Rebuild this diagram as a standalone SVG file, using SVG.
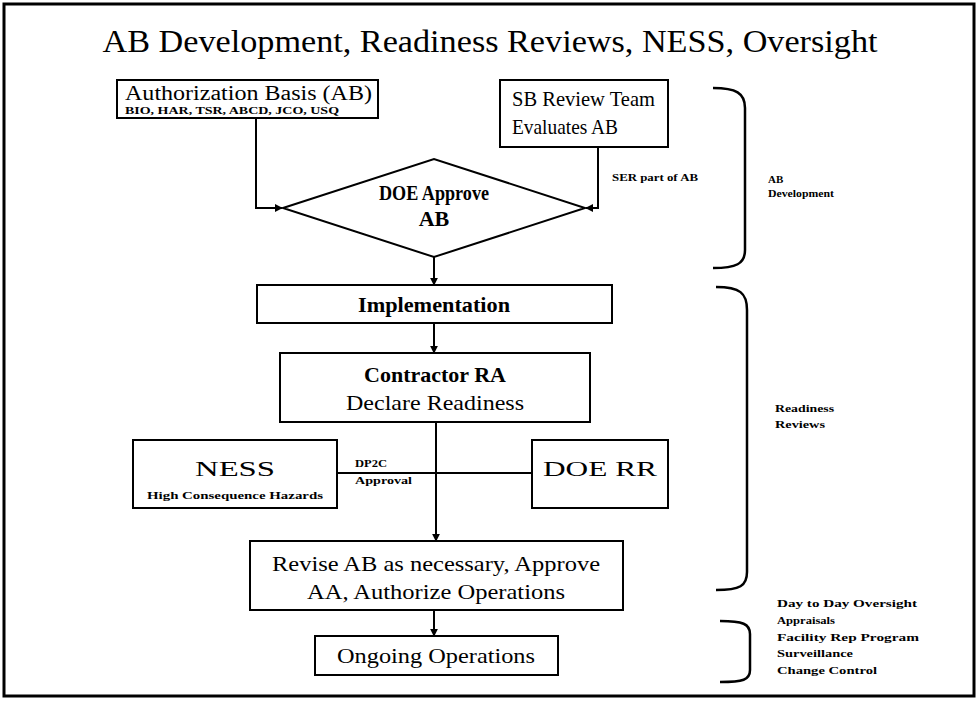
<svg xmlns="http://www.w3.org/2000/svg" width="977" height="707" viewBox="0 0 977 707">
<style>
.box{fill:#fff;stroke:#000;stroke-width:2}
.ln{fill:none;stroke:#000;stroke-width:2}
.br{fill:none;stroke:#000;stroke-width:2.5}
text{font-family:"Liberation Serif","Times New Roman",serif;fill:#000}
.m{font-size:22px;text-anchor:middle}
.b{font-weight:bold}
.s{font-size:11px;font-weight:bold}
</style>
<defs>
<marker id="ah" viewBox="0 0 10 10" refX="9" refY="5" markerWidth="8" markerHeight="8" markerUnits="userSpaceOnUse" orient="auto">
<path d="M0,0 L10,5 L0,10 z" fill="#000"/>
</marker>
</defs>
<rect x="4" y="4" width="970" height="692" fill="#fff" stroke="#000" stroke-width="3"/>
<text x="490" y="52" font-size="31" text-anchor="middle" textLength="775" lengthAdjust="spacingAndGlyphs">AB Development, Readiness Reviews, NESS, Oversight</text>

<g id="connectors">
<path class="ln" d="M256,118 V208 H282" marker-end="url(#ah)"/>
<path class="ln" d="M598,147 V208 H586" marker-end="url(#ah)"/>
<path class="ln" d="M434,257 V285" marker-end="url(#ah)"/>
<path class="ln" d="M434,323 V353" marker-end="url(#ah)"/>
<path class="ln" d="M436,422 V541" marker-end="url(#ah)"/>
<path class="ln" d="M337,473 H532"/>
<path class="ln" d="M434,610 V636" marker-end="url(#ah)"/>
<text class="s" x="612" y="181" textLength="86" lengthAdjust="spacingAndGlyphs">SER part of AB</text>
<text class="s" x="355" y="467" font-size="10" textLength="32" lengthAdjust="spacingAndGlyphs">DP2C</text>
<text class="s" x="355" y="484" font-size="10" textLength="57" lengthAdjust="spacingAndGlyphs">Approval</text>
</g>

<g id="auth-basis">
<rect class="box" x="117" y="80" width="261" height="38"/>
<text x="125" y="100" font-size="20" textLength="247" lengthAdjust="spacingAndGlyphs">Authorization Basis (AB)</text>
<text class="s" x="125" y="114" font-size="9" textLength="214" lengthAdjust="spacingAndGlyphs">BIO, HAR, TSR, ABCD, JCO, USQ</text>
</g>

<g id="sb-review">
<rect class="box" x="500" y="80" width="168" height="67"/>
<text x="512" y="106" font-size="22" textLength="143" lengthAdjust="spacingAndGlyphs">SB Review Team</text>
<text x="512" y="134" font-size="22" textLength="106" lengthAdjust="spacingAndGlyphs">Evaluates AB</text>
</g>

<g id="doe-approve">
<polygon class="box" points="283,208 434,159 585,208 434,257"/>
<text class="m b" x="434" y="200" font-size="18" textLength="110" lengthAdjust="spacingAndGlyphs">DOE Approve</text>
<text class="m b" x="434" y="226" font-size="18">AB</text>
</g>

<g id="implementation">
<rect class="box" x="257" y="285" width="355" height="38"/>
<text class="m b" x="434" y="312" font-size="20" textLength="152" lengthAdjust="spacingAndGlyphs">Implementation</text>
</g>

<g id="contractor-ra">
<rect class="box" x="280" y="353" width="310" height="69"/>
<text class="m b" x="435" y="382" font-size="21" textLength="142" lengthAdjust="spacingAndGlyphs">Contractor RA</text>
<text class="m" x="435" y="410" font-size="22" textLength="178" lengthAdjust="spacingAndGlyphs">Declare Readiness</text>
</g>

<g id="ness">
<rect class="box" x="133" y="440" width="204" height="68"/>
<text class="m" x="235" y="476" font-size="32" textLength="80" lengthAdjust="spacingAndGlyphs">NESS</text>
<text class="s" x="235" y="499" font-size="9.5" text-anchor="middle" textLength="176" lengthAdjust="spacingAndGlyphs">High Consequence Hazards</text>
</g>

<g id="doe-rr">
<rect class="box" x="532" y="440" width="136" height="68"/>
<text class="m" x="600" y="476" font-size="32" textLength="114" lengthAdjust="spacingAndGlyphs">DOE RR</text>
</g>

<g id="revise-ab">
<rect class="box" x="250" y="541" width="373" height="69"/>
<text class="m" x="436" y="571" font-size="22" textLength="328" lengthAdjust="spacingAndGlyphs">Revise AB as necessary, Approve</text>
<text class="m" x="436" y="599" font-size="22" textLength="258" lengthAdjust="spacingAndGlyphs">AA, Authorize Operations</text>
</g>

<g id="ongoing">
<rect class="box" x="315" y="636" width="243" height="39"/>
<text class="m" x="436" y="663" font-size="23" textLength="198" lengthAdjust="spacingAndGlyphs">Ongoing Operations</text>
</g>

<g id="brackets">
<path class="br" d="M713,88 C736,88 745,93 745,108 L745,250 C745,264 736,268 713,268"/>
<path class="br" d="M716,287 C740,287 747,293 747,310 L747,572 C747,586 740,590 716,590"/>
<path class="br" d="M720,621 C743,621 750,624 750,634 L750,670 C750,680 743,682 720,682"/>
<text class="s" x="768" y="183" font-size="12">AB</text>
<text class="s" x="768" y="197" textLength="66" lengthAdjust="spacingAndGlyphs">Development</text>
<text class="s" x="775" y="412" font-size="12" textLength="59" lengthAdjust="spacingAndGlyphs">Readiness</text>
<text class="s" x="775" y="428" font-size="12" textLength="50" lengthAdjust="spacingAndGlyphs">Reviews</text>
<text class="s" x="777" y="607" textLength="140" lengthAdjust="spacingAndGlyphs">Day to Day Oversight</text>
<text class="s" x="777" y="624" textLength="58" lengthAdjust="spacingAndGlyphs">Appraisals</text>
<text class="s" x="777" y="641" textLength="142" lengthAdjust="spacingAndGlyphs">Facility Rep Program</text>
<text class="s" x="777" y="657" textLength="76" lengthAdjust="spacingAndGlyphs">Surveillance</text>
<text class="s" x="777" y="674" textLength="100" lengthAdjust="spacingAndGlyphs">Change Control</text>
</g>
</svg>
